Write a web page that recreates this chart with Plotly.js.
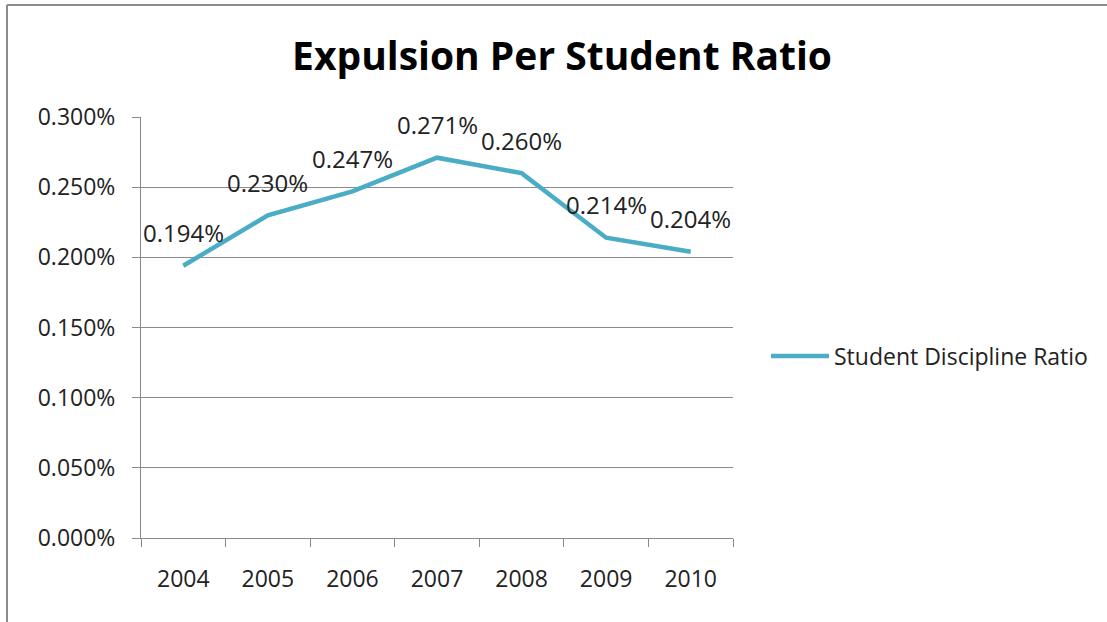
<!DOCTYPE html>
<html>
<head>
<meta charset="utf-8">
<script src="https://cdn.plot.ly/plotly-3.0.1.min.js"></script>
<style>
html,body{margin:0;padding:0;background:#fff;}
#chart{width:1107px;height:622px;}
</style>
</head>
<body>
<div id="chart"></div>
<script>
const years = ['2004','2005','2006','2007','2008','2009','2010'];
const ratios = [0.00194, 0.00230, 0.00247, 0.00271, 0.00260, 0.00214, 0.00204];
const labels = ['0.194%','0.230%','0.247%','0.271%','0.260%','0.214%','0.204%'];
const seriesName = 'Student Discipline Ratio';
const chartTitle = 'Expulsion Per Student Ratio';

const FONT = 'Open Sans, sans-serif';
const GRID = '#8a8a8a';

const trace = {
  x: years,
  y: ratios,
  type: 'scatter',
  mode: 'lines',
  name: seriesName,
  line: {color: '#4BACC6', width: 4.5},
  showlegend: true
};

// data labels: x given as the category index on the category axis
const annotations = years.map((yr, i) => ({
  x: i, y: ratios[i], xref: 'x', yref: 'y',
  text: labels[i], showarrow: false, yshift: 33,
  font: {family: FONT, size: 24, color: '#222'}
}));

const layout = {
  width: 1107, height: 622,
  margin: {l: 141, r: 374, t: 117, b: 84, pad: 0},
  paper_bgcolor: '#fff', plot_bgcolor: '#fff',
  title: {
    text: '<b>' + chartTitle + '</b>',
    x: 0.5077, xref: 'container', xanchor: 'center',
    y: 1 - 56/622, yref: 'container', yanchor: 'middle',
    font: {family: FONT, size: 39, color: '#000'}
  },
  xaxis: {
    type: 'category',
    range: [-0.5, 6.5],
    tickson: 'boundaries',
    ticks: 'outside', ticklen: 8, tickcolor: GRID, tickwidth: 1,
    showline: true, linecolor: GRID, linewidth: 1,
    showgrid: false, zeroline: false,
    ticklabelstandoff: 20,
    tickfont: {family: FONT, size: 23, color: '#222'},
    fixedrange: true
  },
  yaxis: {
    range: [0, 0.003],
    dtick: 0.0005, tick0: 0,
    tickformat: '.3%',
    ticks: 'outside', ticklen: 8, tickcolor: GRID, tickwidth: 1,
    showline: true, linecolor: GRID, linewidth: 1,
    showgrid: true, gridcolor: GRID, gridwidth: 1,
    zeroline: false,
    ticklabelstandoff: 12,
    tickfont: {family: FONT, size: 23, color: '#222'},
    fixedrange: true
  },
  showlegend: true,
  legend: {
    x: (766 - 141) / 592, xanchor: 'left',
    y: (538 - 356) / 421, yanchor: 'middle',
    bgcolor: 'rgba(0,0,0,0)', borderwidth: 0,
    itemwidth: 58,
    font: {family: FONT, size: 23, color: '#222'}
  },
  annotations: annotations,
  shapes: [
    {type: 'line', xref: 'paper', yref: 'paper',
     x0: (7 - 141) / 592, x1: (1110 - 141) / 592,
     y0: (538 - 5) / 421, y1: (538 - 5) / 421,
     line: {color: '#8c8c8c', width: 2}},
    {type: 'line', xref: 'paper', yref: 'paper',
     x0: (7 - 141) / 592, x1: (7 - 141) / 592,
     y0: (538 - 5) / 421, y1: (538 - 625) / 421,
     line: {color: '#8c8c8c', width: 2}}
  ]
};

Plotly.newPlot('chart', [trace], layout, {displayModeBar: false, staticPlot: true});
</script>
</body>
</html>
